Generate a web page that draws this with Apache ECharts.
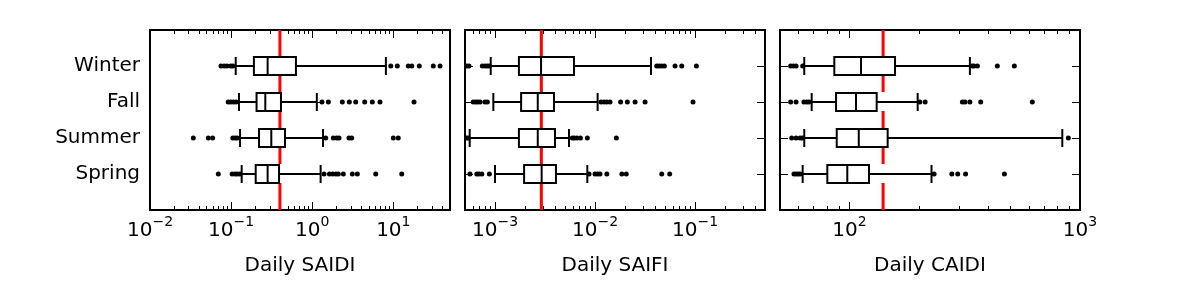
<!DOCTYPE html>
<html><head><meta charset="utf-8">
<script src="https://cdn.jsdelivr.net/npm/echarts@6/dist/echarts.min.js"></script>
<style>html,body{margin:0;padding:0;background:#fff}#c{width:1200px;height:300px}</style>
</head><body><div id="c"></div>
<script>
// Seasons, bottom to top (y positions 1..4)
const seasons = ['Spring', 'Summer', 'Fall', 'Winter'];

// Box stats per season: [lower whisker, Q1, median, Q3, upper whisker]
const saidiBoxes = [
  [0.135, 0.201, 0.282, 0.39, 1.27],
  [0.129, 0.221, 0.313, 0.462, 1.36],
  [0.125, 0.206, 0.264, 0.412, 1.14],
  [0.114, 0.191, 0.282, 0.63, 8.1]
];
const saidiOutliers = [
  [0.0695, 0.103, 0.112, 0.119, 0.128, 1.40, 1.63, 1.79, 1.96, 2.10, 2.42, 3.12, 3.60, 6.07, 12.7],
  [0.0342, 0.0524, 0.0593, 0.105, 0.112, 0.119, 1.47, 1.82, 2.00, 2.14, 2.84, 3.07, 10.0, 11.5],
  [0.092, 0.099, 0.107, 0.115, 1.32, 1.58, 2.35, 2.87, 3.44, 4.44, 5.51, 6.85, 18.0],
  [0.075, 0.082, 0.089, 0.099, 0.105, 9.3, 11.2, 15.3, 16.9, 20.9, 31.1, 37.7]
];
const saifiBoxes = [
  [0.000998, 0.00195, 0.00292, 0.00406, 0.00836],
  [0.000557, 0.00173, 0.00267, 0.00397, 0.00548],
  [0.00096, 0.00182, 0.00267, 0.00388, 0.0106],
  [0.000904, 0.00173, 0.00288, 0.00615, 0.0362]
];
const saifiOutliers = [
  [0.00056, 0.000656, 0.00069, 0.000737, 0.000876, 0.00869, 0.00998, 0.0106, 0.0112, 0.0131, 0.0185, 0.0205, 0.0464, 0.0557],
  [0.00052, 0.00054, 0.00592, 0.0062, 0.00659, 0.00713, 0.00836, 0.0163],
  [0.000605, 0.00064, 0.00067, 0.000708, 0.000793, 0.000836, 0.01146, 0.0123, 0.0131, 0.0141, 0.018, 0.021, 0.0251, 0.0316, 0.0953],
  [0.00052, 0.000548, 0.000745, 0.000793, 0.000836, 0.000876, 0.0413, 0.0436, 0.0464, 0.0493, 0.063, 0.0735, 0.103]
];
const caidiBoxes = [
  [62.7, 80.2, 97.9, 121.6, 227],
  [63.7, 88.1, 109.8, 146.5, 838],
  [68.6, 87.5, 106.8, 131.3, 197.7],
  [63.7, 86.0, 112.3, 157.7, 333]
];
const caidiOutliers = [
  [57.5, 58.7, 59.9, 61.1, 233, 278, 295, 319, 470],
  [56.2, 58.7, 61.1, 62.5, 890],
  [55.6, 58.7, 63.5, 65.3, 66.8, 202, 213, 309, 317, 333, 371, 621],
  [55.6, 57.1, 58.7, 62.7, 341, 347, 359, 438, 519]
];
// Reference (red) line values
const refValues = [0.40, 0.0029, 140];
// Axis limits (data units) and axis titles
const xLimits = [[0.01, 50], [0.0005, 0.5], [50, 1000]];
const xTitles = ['Daily SAIDI', 'Daily SAIFI', 'Daily CAIDI'];
// Major tick exponents (tick labels 10^n)
const majorExps = [[-2, -1, 0, 1], [-3, -2, -1], [2, 3]];

const panels = [
  {boxes: saidiBoxes, outliers: saidiOutliers},
  {boxes: saifiBoxes, outliers: saifiOutliers},
  {boxes: caidiBoxes, outliers: caidiOutliers}
];

const FONT = 'DejaVu Sans';
const lg = v => Math.round(Math.log10(v) * 1e9) / 1e9;

function minorTicks(lo, hi) {
  const out = [];
  for (let d = Math.floor(lo) - 1; d <= Math.ceil(hi); d++) {
    for (let k = 2; k <= 9; k++) {
      const t = d + Math.log10(k);
      if (t > lo + 1e-9 && t < hi - 1e-9) out.push(t);
    }
  }
  return out;
}

const grids = [], xAxes = [], yAxes = [], series = [];
const lefts = [150, 465, 780];

panels.forEach((p, gi) => {
  grids.push({left: lefts[gi], top: 30, width: 300, height: 180, show: true,
    borderColor: '#000', borderWidth: 2, backgroundColor: 'transparent', containLabel: false});
  const lo = lg(xLimits[gi][0]), hi = lg(xLimits[gi][1]);
  const minors = minorTicks(lo, hi);
  const base = {type: 'value', gridIndex: gi, min: lo, max: hi, splitLine: {show: false},
    axisLine: {show: false}};
  const mainIdx = xAxes.length;
  xAxes.push(Object.assign({}, base, {
    position: 'bottom',
    name: xTitles[gi], nameLocation: 'middle', nameGap: 46,
    nameTextStyle: {fontFamily: FONT, fontSize: 20, color: '#000'},
    axisTick: {show: true, inside: true, length: 8, customValues: majorExps[gi], lineStyle: {color: '#000', width: 1}},
    axisLabel: {show: true, customValues: majorExps[gi], margin: 8,
      formatter: v => '{b|10}{s|' + (v < 0 ? '\u2212' : '') + Math.abs(Math.round(v)) + '}',
      rich: {
        b: {fontFamily: FONT, fontSize: 20, color: '#000', lineHeight: 20, padding: [5, 0, 0, 0]},
        s: {fontFamily: FONT, fontSize: 14, color: '#000', lineHeight: 14, padding: [0, 0, 11, 0]}
      }}
  }));
  xAxes.push(Object.assign({}, base, {position: 'bottom',
    axisTick: {show: true, inside: true, length: 4, customValues: minors, lineStyle: {color: '#000', width: 1}},
    axisLabel: {show: false}}));
  xAxes.push(Object.assign({}, base, {position: 'top',
    axisTick: {show: true, inside: true, length: 8, customValues: majorExps[gi], lineStyle: {color: '#000', width: 1}},
    axisLabel: {show: false}}));
  xAxes.push(Object.assign({}, base, {position: 'top',
    axisTick: {show: true, inside: true, length: 4, customValues: minors, lineStyle: {color: '#000', width: 1}},
    axisLabel: {show: false}}));

  const yIdx = yAxes.length;
  yAxes.push({type: 'value', gridIndex: gi, min: 0, max: 5, position: 'left', splitLine: {show: false},
    axisLine: {show: false},
    axisTick: {show: true, inside: true, length: 8, customValues: [1, 2, 3, 4], lineStyle: {color: '#000', width: 1}},
    axisLabel: {show: gi === 0, customValues: [1, 2, 3, 4], margin: 10,
      formatter: v => seasons[Math.round(v) - 1] || '',
      fontFamily: FONT, fontSize: 20, color: '#000'}});
  yAxes.push({type: 'value', gridIndex: gi, min: 0, max: 5, position: 'right', splitLine: {show: false},
    axisLine: {show: false},
    axisTick: {show: true, inside: true, length: 8, customValues: [1, 2, 3, 4], lineStyle: {color: '#000', width: 1}},
    axisLabel: {show: false}});

  // red reference line
  series.push({type: 'line', xAxisIndex: mainIdx, yAxisIndex: yIdx, z: 1, silent: true,
    data: [[lg(refValues[gi]), 0], [lg(refValues[gi]), 5]], symbol: 'none',
    lineStyle: {color: '#ff0000', width: 3, type: [27, 19, 53, 19, 62, 19]}});

  // boxes
  series.push({type: 'custom', xAxisIndex: mainIdx, yAxisIndex: yIdx, z: 3, silent: true,
    encode: {x: [1, 2, 3, 4, 5], y: 0},
    data: p.boxes.map((b, i) => [i + 1].concat(b.map(lg))),
    renderItem: (params, api) => {
      const y = api.value(0);
      const c = k => api.coord([api.value(k), y]);
      const lo = c(1), q1 = c(2), md = c(3), q3 = c(4), hi = c(5);
      const h = 9, cy = lo[1];
      const st = {stroke: '#000', lineWidth: 2, fill: null};
      return {type: 'group', children: [
        {type: 'line', shape: {x1: lo[0], y1: cy, x2: q1[0], y2: cy}, style: st},
        {type: 'line', shape: {x1: q3[0], y1: cy, x2: hi[0], y2: cy}, style: st},
        {type: 'line', shape: {x1: lo[0], y1: cy - h, x2: lo[0], y2: cy + h}, style: st},
        {type: 'line', shape: {x1: hi[0], y1: cy - h, x2: hi[0], y2: cy + h}, style: st},
        {type: 'rect', shape: {x: q1[0], y: cy - h, width: q3[0] - q1[0], height: 2 * h},
          style: {fill: '#fff', stroke: '#000', lineWidth: 2}},
        {type: 'line', shape: {x1: md[0], y1: cy - h, x2: md[0], y2: cy + h}, style: st}
      ]};
    }});

  // outliers
  const pts = [];
  p.outliers.forEach((arr, i) => arr.forEach(v => pts.push([lg(v), i + 1])));
  series.push({type: 'scatter', xAxisIndex: mainIdx, yAxisIndex: yIdx, z: 4, silent: true,
    symbol: 'circle', symbolSize: 5, itemStyle: {color: '#000', opacity: 1}, data: pts});
});

const chart = echarts.init(document.getElementById('c'), null, {renderer: 'canvas'});
chart.setOption({animation: false, backgroundColor: '#fff', grid: grids, xAxis: xAxes, yAxis: yAxes, series: series});
</script>
</body></html>
